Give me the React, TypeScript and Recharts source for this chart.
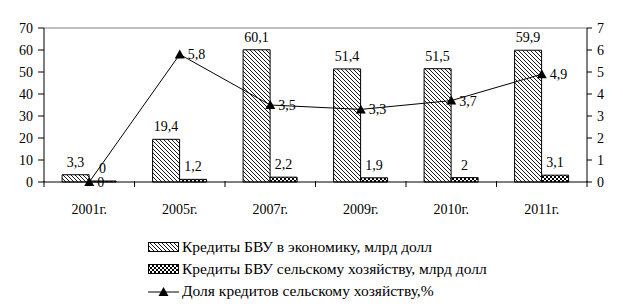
import React from 'react';
import {
  ComposedChart,
  Bar,
  Line,
  XAxis,
  YAxis,
  LabelList,
  ReferenceLine,
} from 'recharts';

const YEARS = ['2001г.', '2005г.', '2007г.', '2009г.', '2010г.', '2011г.'];
const ECONOMY = [3.3, 19.4, 60.1, 51.4, 51.5, 59.9];
const AGRI = [0, 1.2, 2.2, 1.9, 2, 3.1];
const SHARE = [0, 5.8, 3.5, 3.3, 3.7, 4.9];
const LEFT_TICKS = [0, 10, 20, 30, 40, 50, 60, 70];
const RIGHT_TICKS = [0, 1, 2, 3, 4, 5, 6, 7];
const NAMES = [
  'Кредиты БВУ в экономику, млрд долл',
  'Кредиты БВУ сельскому хозяйству, млрд долл',
  'Доля кредитов сельскому хозяйству,%',
];

const data = YEARS.map((year, i) => ({
  year,
  economy: ECONOMY[i],
  agri: AGRI[i],
  share: SHARE[i],
}));

const FONT = "'Liberation Serif'";
const fmt = (v: any) => String(v).replace('.', ',');

// force the serif face on every svg/html text of the chart
const CSS = `.kz-chart text, .kz-chart tspan, .kz-chart div, .kz-chart span { font-family: 'Liberation Serif', serif !important; }`;

const Patterns = () => (
  <defs>
    <pattern id="hatch" width="4" height="4" patternUnits="userSpaceOnUse">
      <rect width="4" height="4" fill="#fff" />
      <path d="M-1,-1 L5,5 M-1,3 L1,5 M3,-1 L5,1" stroke="#000" strokeWidth="0.9" />
    </pattern>
    <pattern id="checks" width="4" height="4" patternUnits="userSpaceOnUse">
      <rect width="4" height="4" fill="#000" />
      <rect x="0" y="0" width="2" height="2" fill="#fff" />
      <rect x="2" y="2" width="2" height="2" fill="#fff" />
    </pattern>
  </defs>
);

const Triangle = (props: any) => {
  const { cx, cy } = props;
  if (cx == null || cy == null) return null;
  return <path d={`M${cx},${cy - 5} L${cx + 5},${cy + 4} L${cx - 5},${cy + 4} Z`} fill="#000" />;
};

const XTick = (props: any) => {
  const { x, y, payload, index, width, visibleTicksCount } = props;
  const step = width && visibleTicksCount ? width / visibleTicksCount : 90.5;
  const axisY = y - 22;
  const left = payload.coordinate - step / 2;
  return (
    <g>
      <line x1={left} x2={left} y1={axisY - 1} y2={axisY + 5} stroke="#000" />
      {index === visibleTicksCount - 1 && (
        <line x1={left + step} x2={left + step} y1={axisY - 1} y2={axisY + 5} stroke="#000" />
      )}
      <text x={x} y={y} dy={10} textAnchor="middle" fontFamily={FONT} fontSize={14} fill="#000">
        {payload.value}
      </text>
    </g>
  );
};

const LegendIcon = ({ idx }: { idx: number }) => (
  <svg width={32} height={12} style={{ marginRight: 2 }}>
    {idx === 0 && <rect x={0.5} y={1.5} width={30} height={9} fill="url(#hatch)" stroke="#000" />}
    {idx === 1 && <rect x={0.5} y={1.5} width={30} height={9} fill="url(#checks)" stroke="#000" />}
    {idx === 2 && (
      <g>
        <line x1={0} x2={31} y1={7} y2={7} stroke="#000" />
        <path d="M15.5,2 L20.5,11 L10.5,11 Z" fill="#000" />
      </g>
    )}
  </svg>
);

export default function App() {
  return (
    <div className="kz-chart" style={{ position: 'absolute', left: 0, top: 0, width: 623, height: 308, background: '#fff', fontFamily: FONT }}>
      <style>{CSS}</style>
      <ComposedChart
        width={623}
        height={308}
        data={data}
        margin={{ top: 28, right: 0, left: 0, bottom: 96 }}
        barCategoryGap="20%"
        barGap={0}
      >
        <Patterns />
        <XAxis
          dataKey="year"
          height={30}
          stroke="#000"
          tickLine={false}
          tickSize={0}
          tickMargin={22}
          tick={<XTick />}
          interval={0}
        />
        <YAxis
          yAxisId="left"
          domain={[0, 70]}
          ticks={LEFT_TICKS}
          width={44}
          stroke="#000"
          tickSize={6}
          tickMargin={5}
          tick={{ fill: '#000', fontSize: 14, fontFamily: FONT }}
        />
        <YAxis
          yAxisId="right"
          orientation="right"
          domain={[0, 7]}
          ticks={RIGHT_TICKS}
          width={36}
          stroke="#000"
          tickSize={5}
          tickMargin={5}
          tick={{ fill: '#000', fontSize: 14, fontFamily: FONT }}
        />
        <ReferenceLine yAxisId="left" y={70} stroke="#808080" />
        <Bar yAxisId="left" dataKey="economy" fill="url(#hatch)" stroke="#000" strokeWidth={1} isAnimationActive={false}>
          <LabelList dataKey="economy" position="top" offset={8} formatter={fmt} fill="#000" fontSize={14} fontFamily={FONT} />
        </Bar>
        <Bar yAxisId="left" dataKey="agri" fill="url(#checks)" stroke="#000" strokeWidth={1} minPointSize={1} isAnimationActive={false}>
          <LabelList dataKey="agri" position="top" offset={8} formatter={fmt} fill="#000" fontSize={14} fontFamily={FONT} />
        </Bar>
        <Line
          yAxisId="right"
          dataKey="share"
          stroke="#000"
          strokeWidth={1}
          dot={<Triangle />}
          activeDot={false}
          isAnimationActive={false}
        >
          <LabelList dataKey="share" position="right" offset={8} formatter={fmt} fill="#000" fontSize={14} fontFamily={FONT} />
        </Line>
      </ComposedChart>
      <div style={{ position: 'absolute', left: 148, top: 236, fontSize: 15.5, color: '#000', lineHeight: '22px' }}>
        {NAMES.map((n, i) => (
          <div key={n} style={{ display: 'flex', alignItems: 'center', height: 22 }}>
            <LegendIcon idx={i} />
            <span>{n}</span>
          </div>
        ))}
      </div>
    </div>
  );
}
